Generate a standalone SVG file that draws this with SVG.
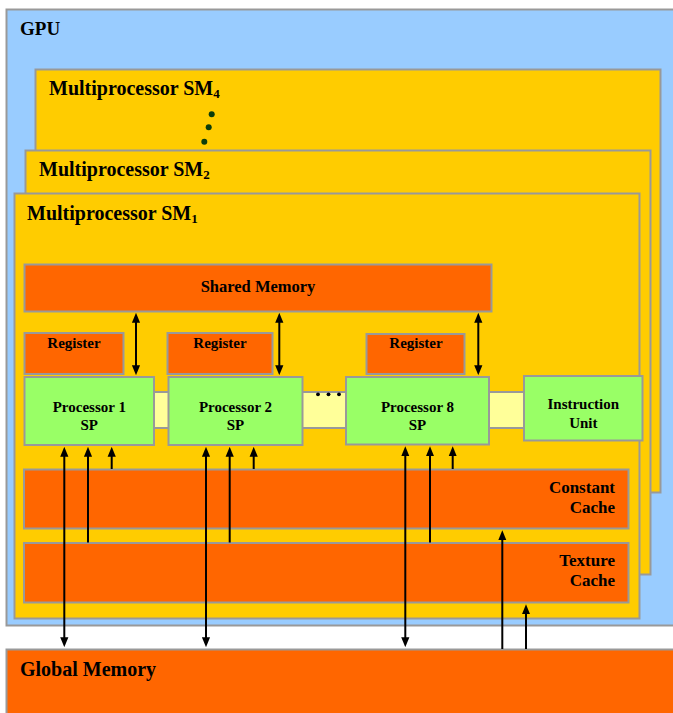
<svg xmlns="http://www.w3.org/2000/svg" width="673" height="713" viewBox="0 0 673 713">
<defs>
<style>
text{font-family:"Liberation Serif","Times New Roman",serif;font-weight:bold;fill:#000}
.box{stroke:#999;stroke-width:2}
.blue{fill:#99CCFF}
.sm{fill:#FFCC00}
.org{fill:#FF6600}
.grn{fill:#99FF66}
.bar{fill:#FFFF99}
.lbl{font-size:15px;text-anchor:middle}
.smt{font-size:20px}
.sub{font-size:13px}
.cc{font-size:17px;text-anchor:end}
.cn{stroke:#000;stroke-width:2;fill:none}
</style>
<marker id="ah" markerUnits="userSpaceOnUse" markerWidth="10" markerHeight="11" viewBox="0 0 11 10" refX="2" refY="5" orient="auto-start-reverse">
<path d="M0,0.5 L11,5 L0,9.5 z" fill="#000"/>
</marker>
</defs>
<rect width="673" height="713" fill="#fff"/>
<g id="gpu">
<rect class="box blue" x="6.5" y="9.5" width="680" height="616"/>
<text x="20" y="35" style="font-size:19px">GPU</text>
</g>
<g id="global-memory">
<rect class="box org" x="6.5" y="649.5" width="680" height="80"/>
<text x="20" y="676" style="font-size:20px">Global Memory</text>
</g>
<g id="sm4">
<rect class="box sm" x="35.5" y="69.5" width="625" height="423"/>
<text class="smt" x="49" y="95">Multiprocessor SM<tspan class="sub" dy="3">4</tspan></text>
<circle cx="211.7" cy="114.3" r="3" fill="#0b3d0b"/>
<circle cx="208.7" cy="127.3" r="3" fill="#0b3d0b"/>
<circle cx="204.3" cy="141.7" r="3" fill="#0b3d0b"/>
</g>
<g id="sm2">
<rect class="box sm" x="25.5" y="150.5" width="625" height="424"/>
<text class="smt" x="39" y="176">Multiprocessor SM<tspan class="sub" dy="3">2</tspan></text>
</g>
<g id="sm1">
<rect class="box sm" x="14.5" y="193.5" width="625" height="425"/>
<text class="smt" x="27" y="220">Multiprocessor SM<tspan class="sub" dy="3">1</tspan></text>
</g>
<g id="shared-memory">
<rect class="box org" x="24.5" y="264.5" width="467" height="47"/>
<text x="258" y="292" style="font-size:16.5px;text-anchor:middle">Shared Memory</text>
</g>
<g id="register-1">
<rect class="box org" x="24.5" y="333" width="99" height="41"/>
<text class="lbl" x="74" y="348">Register</text>
</g>
<g id="register-2">
<rect class="box org" x="167.5" y="333" width="105" height="41"/>
<text class="lbl" x="220" y="348">Register</text>
</g>
<g id="register-8">
<rect class="box org" x="366.5" y="334" width="98" height="40"/>
<text class="lbl" x="416" y="348">Register</text>
</g>
<g id="bus">
<rect class="box bar" x="150" y="392" width="376" height="36"/>
<circle cx="318" cy="394.3" r="1.9" fill="#000"/>
<circle cx="328.5" cy="394.3" r="1.9" fill="#000"/>
<circle cx="339" cy="394.3" r="1.9" fill="#000"/>
</g>
<g id="processor-1">
<rect class="box grn" x="24.5" y="377" width="129.5" height="68"/>
<text class="lbl" x="89.3" y="412">Processor 1</text>
<text class="lbl" x="89.3" y="429.5">SP</text>
</g>
<g id="processor-2">
<rect class="box grn" x="168.5" y="377" width="134" height="68"/>
<text class="lbl" x="235.5" y="412">Processor 2</text>
<text class="lbl" x="235.5" y="429.5">SP</text>
</g>
<g id="processor-8">
<rect class="box grn" x="346" y="377" width="143" height="67.5"/>
<text class="lbl" x="417.5" y="412">Processor 8</text>
<text class="lbl" x="417.5" y="429.5">SP</text>
</g>
<g id="instruction-unit">
<rect class="box grn" x="524" y="376" width="118.5" height="64.5"/>
<text class="lbl" x="583.3" y="409">Instruction</text>
<text class="lbl" x="583.3" y="428">Unit</text>
</g>
<g id="constant-cache">
<rect class="box org" x="24" y="469.5" width="604.5" height="59"/>
<text class="cc" x="615" y="492.5">Constant</text>
<text class="cc" x="615" y="513">Cache</text>
</g>
<g id="texture-cache">
<rect class="box org" x="24" y="543" width="604.5" height="59.5"/>
<text class="cc" x="615" y="566">Texture</text>
<text class="cc" x="615" y="586">Cache</text>
</g>
<g id="connectors">
<line class="cn" x1="136" y1="321" x2="136" y2="367" marker-start="url(#ah)" marker-end="url(#ah)"/>
<line class="cn" x1="279.3" y1="321" x2="279.3" y2="367" marker-start="url(#ah)" marker-end="url(#ah)"/>
<line class="cn" x1="478.3" y1="321" x2="478.3" y2="367" marker-start="url(#ah)" marker-end="url(#ah)"/>
<line class="cn" x1="64.3" y1="455" x2="64.3" y2="639" marker-start="url(#ah)" marker-end="url(#ah)"/>
<line class="cn" x1="88" y1="542.5" x2="88" y2="455" marker-end="url(#ah)"/>
<line class="cn" x1="111.7" y1="469" x2="111.7" y2="455" marker-end="url(#ah)"/>
<line class="cn" x1="206" y1="455" x2="206" y2="639" marker-start="url(#ah)" marker-end="url(#ah)"/>
<line class="cn" x1="229.7" y1="542.5" x2="229.7" y2="455" marker-end="url(#ah)"/>
<line class="cn" x1="253.7" y1="469" x2="253.7" y2="455" marker-end="url(#ah)"/>
<line class="cn" x1="405.3" y1="454.5" x2="405.3" y2="639" marker-start="url(#ah)" marker-end="url(#ah)"/>
<line class="cn" x1="430" y1="542.5" x2="430" y2="454.5" marker-end="url(#ah)"/>
<line class="cn" x1="452.7" y1="469" x2="452.7" y2="454.5" marker-end="url(#ah)"/>
<line class="cn" x1="502.3" y1="649" x2="502.3" y2="538.5" marker-end="url(#ah)"/>
<line class="cn" x1="526" y1="649" x2="526" y2="612.5" marker-end="url(#ah)"/>
</g>
</svg>
